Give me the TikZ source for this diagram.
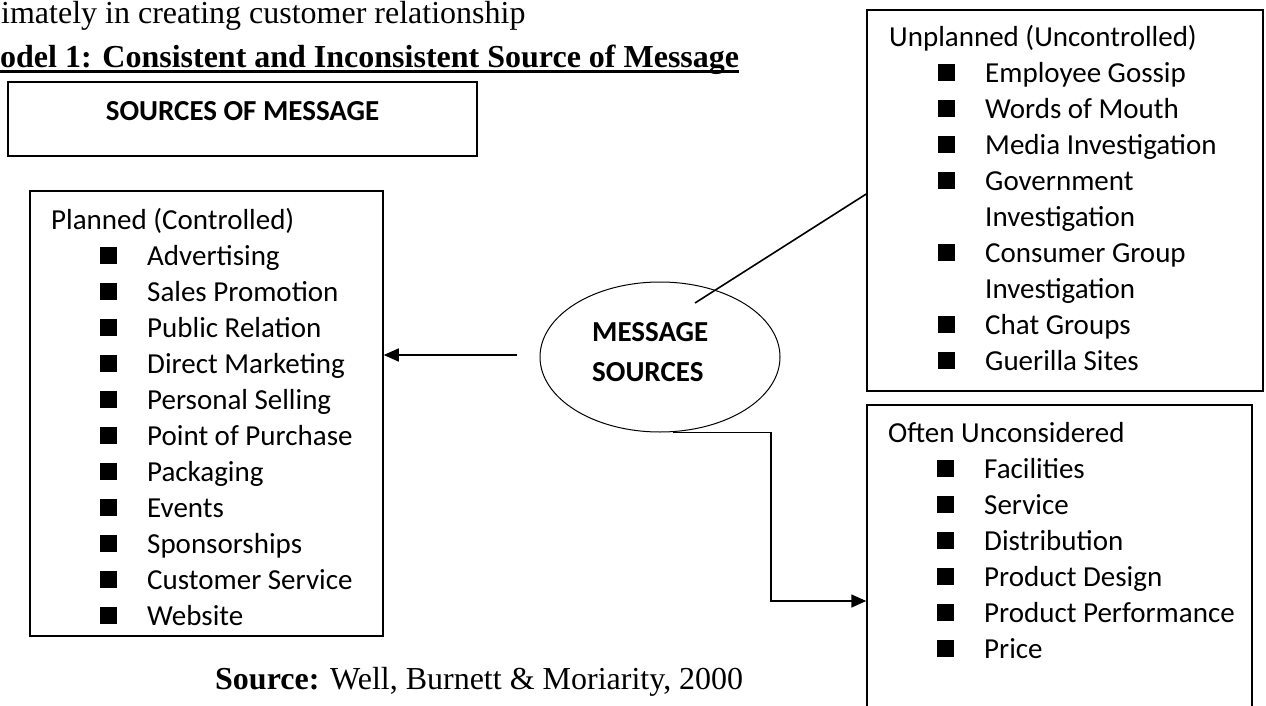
\documentclass[tikz,border=0pt]{standalone}
\usepackage{fontspec}
\setmainfont{Liberation Serif}
\newfontfamily\carlito{Carlito}
\usetikzlibrary{arrows.meta, positioning, shapes.geometric, calc}

% bullet square and the indents of the lists
\newcommand\sqb{\hspace*{49pt}\rule[1.5pt]{17pt}{17pt}\hspace*{30pt}}
\newcommand\cont{\hspace*{96pt}}
\newcommand\firstln{\rule{0pt}{25pt}}
\newlength\ulwd
\newcommand\thickul[1]{\settowidth\ulwd{#1}\rlap{\rule[-5pt]{\ulwd}{3pt}}#1}

\begin{document}
\begin{tikzpicture}[x=1pt, y=-1pt, font=\carlito\fontsize{29pt}{36pt}\selectfont]
    \tikzset{
      box/.style={rectangle, draw, line width=1.5pt, fill=white, inner sep=0pt},
      lst/.style={anchor=north west, align=left, inner sep=0pt},
      bld/.style={font=\carlito\bfseries\fontsize{29pt}{40pt}\selectfont},
      serif/.style={font=\rmfamily\fontsize{32pt}{36pt}\selectfont,
                    inner sep=0pt, anchor=base west},
      arr/.style={-{Triangle[length=15pt, width=13pt]}, line width=1.6pt},
      ln/.style={line width=1.6pt}
    }
    \useasboundingbox (0,0) rectangle (1266,706);
    % text of the page round the figure
    \node[serif] (intro) at (1,24) {imately in creating customer relationship};
    \node[serif] (title) at (0,68) {\thickul{\textbf{odel 1: Consistent and Inconsistent Source of Message}}};
    \node[serif] (credit) at (215,689) {\textbf{Source:} Well, Burnett \& Moriarity, 2000};
    % boxes
    \node[box, minimum width=469pt, minimum height=74pt] (srcbox) at (242.5,119) {};
    \node[bld, anchor=base, inner sep=0pt] (srclbl) at (242.5,121) {SOURCES OF MESSAGE};
    \node[box, minimum width=353pt, minimum height=445pt] (planbox) at (206.5,413.5) {};
    \node[box, minimum width=396pt, minimum height=381pt] (unpbox) at (1065,200.5) {};
    \node[box, minimum width=385pt, minimum height=315pt] (oftbox) at (1059.5,562.5) {};
    \node[ellipse, draw, line width=1pt, minimum width=240pt, minimum height=150pt,
          inner sep=0pt] (msg) at (660,357) {};
    \node[lst, bld] (msglbl) at (592,316) {\firstln MESSAGE\\
      SOURCES};
    % lists
    \node[lst] (planlist) at (51,204) {\firstln Planned (Controlled)\\
      \sqb Advertising\\
      \sqb Sales Promotion\\
      \sqb Public Relation\\
      \sqb Direct Marketing\\
      \sqb Personal Selling\\
      \sqb Point of Purchase\\
      \sqb Packaging\\
      \sqb Events\\
      \sqb Sponsorships\\
      \sqb Customer Service\\
      \sqb Website};
    \node[lst] (unplist) at (889,21) {\firstln Unplanned (Uncontrolled)\\
      \sqb Employee Gossip\\
      \sqb Words of Mouth\\
      \sqb Media Investigation\\
      \sqb Government\\
      \cont Investigation\\
      \sqb Consumer Group\\
      \cont Investigation\\
      \sqb Chat Groups\\
      \sqb Guerilla Sites};
    \node[lst] (oftlist) at (888,417) {\firstln Often Unconsidered\\
      \sqb Facilities\\
      \sqb Service\\
      \sqb Distribution\\
      \sqb Product Design\\
      \sqb Product Performance\\
      \sqb Price};
    % connectors
    \coordinate (tail) at (517,355);
    \draw[arr] (tail) -- (tail -| planbox.east);
    \coordinate (poke) at (695,303);
    \draw[ln] (poke) -- ([yshift=6.5pt]unpbox.west);
    \coordinate (bend) at (771,601);
    \draw[arr] ([xshift=13pt]msg.south) -| (bend) -- (bend -| oftbox.west);
  \end{tikzpicture}
\end{document}
